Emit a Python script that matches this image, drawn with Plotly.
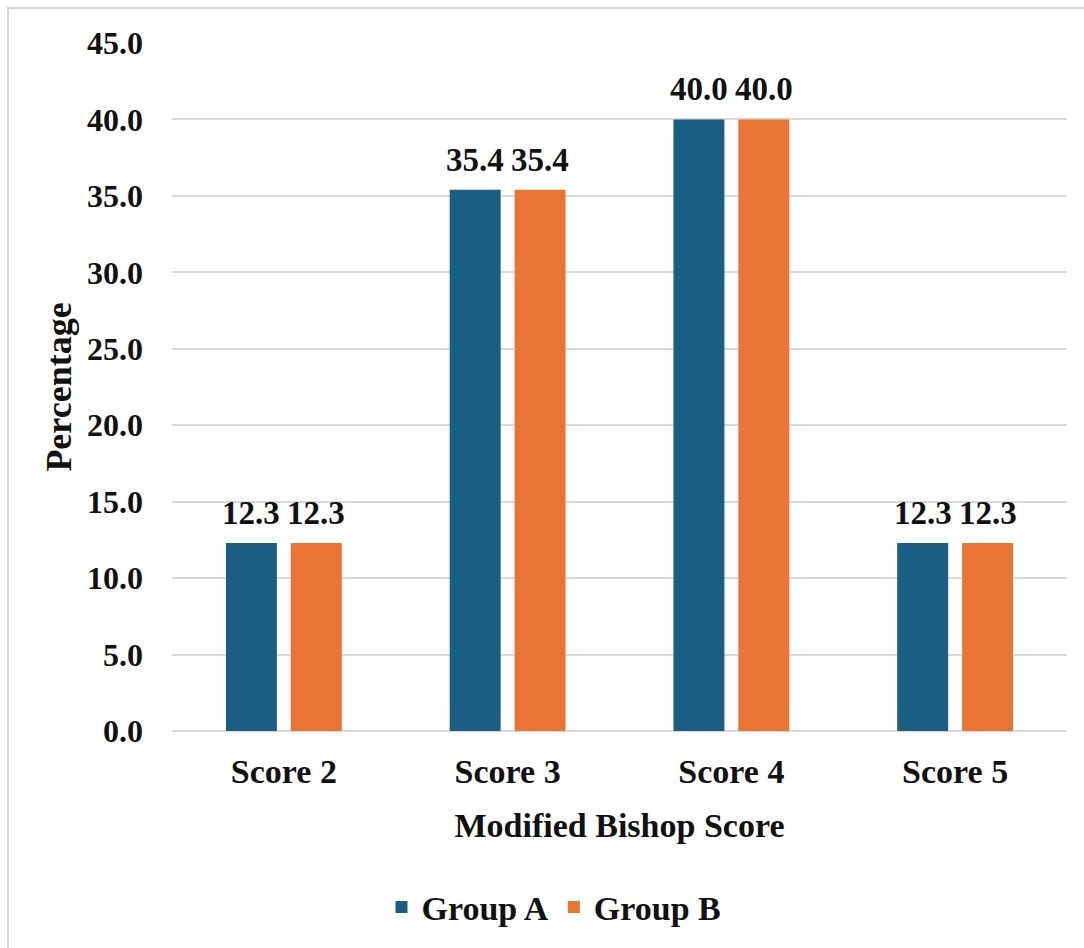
import plotly.graph_objects as go

# Distribution of modified Bishop scores by group (percent of patients)
categories = ["Score 2", "Score 3", "Score 4", "Score 5"]
group_a = [12.3, 35.4, 40.0, 12.3]
group_b = [12.3, 35.4, 40.0, 12.3]
y_ticks = [0, 5, 10, 15, 20, 25, 30, 35, 40, 45]

COLOR_A = "#1a5e82"
COLOR_B = "#e97433"
FONT = "Liberation Serif"
GRID = "#d9d9d9"

W, H = 1084, 948
L, R, T, B = 172, 17, 43, 215
plot_w = W - L - R
plot_h = H - T - B

fig = go.Figure()
fig.add_trace(go.Bar(name="Group A", x=categories, y=group_a, marker_color=COLOR_A,
                     marker_line_width=0))
fig.add_trace(go.Bar(name="Group B", x=categories, y=group_b, marker_color=COLOR_B,
                     marker_line_width=0))

# value labels above each bar
bargap, bargroupgap = 0.42, 0.215
cat_w = plot_w / len(categories)
offset = cat_w * (1 - bargap) / 4
for vals, sign in ((group_a, -1), (group_b, 1)):
    for c, v in zip(categories, vals):
        fig.add_annotation(x=c, y=v, text=f"{v:.1f}", showarrow=False,
                           xshift=sign * offset, yshift=10, yanchor="bottom",
                           font=dict(family=FONT, size=33, color="#111111", weight="bold"))

# light frame around the chart
def px_to_paper_x(px):
    return (px - L) / plot_w

def px_to_paper_y(py):
    return (H - B - py) / plot_h

fig.add_shape(type="rect", xref="paper", yref="paper",
              x0=px_to_paper_x(8), x1=px_to_paper_x(W + 20),
              y0=px_to_paper_y(H + 20), y1=px_to_paper_y(8),
              line=dict(color="#d4d4d4", width=2), fillcolor="rgba(0,0,0,0)", layer="below")

fig.update_layout(
    width=W, height=H,
    margin=dict(l=L, r=R, t=T, b=B),
    paper_bgcolor="white", plot_bgcolor="white",
    barmode="group", bargap=bargap, bargroupgap=bargroupgap,
    font=dict(family=FONT, size=33, color="#111111", weight="bold"),
    showlegend=True,
    legend=dict(orientation="h", x=px_to_paper_x(554), xanchor="center",
                y=px_to_paper_y(910), yanchor="middle",
                font=dict(family=FONT, size=34, color="#111111", weight="bold"),
                itemclick=False, itemdoubleclick=False),
    xaxis=dict(
        title=dict(text="Modified Bishop Score", standoff=24,
                   font=dict(family=FONT, size=34, weight="bold")),
        showline=False, showgrid=False, ticks="",
        ticklabelstandoff=17,
        tickfont=dict(family=FONT, size=34, weight="bold"),
    ),
    yaxis=dict(
        title=dict(text="Percentage", standoff=4,
                   font=dict(family=FONT, size=36, weight="bold")),
        range=[0, 45], tickvals=y_ticks,
        ticktext=[f"{t:.1f}" for t in y_ticks],
        showgrid=True, gridcolor=GRID, gridwidth=1.5,
        zeroline=True, zerolinecolor=GRID, zerolinewidth=1.5,
        showline=False, ticks="",
        ticklabelstandoff=28,
        tickfont=dict(family=FONT, size=32, weight="bold"),
    ),
)

fig.write_html("out.html")
